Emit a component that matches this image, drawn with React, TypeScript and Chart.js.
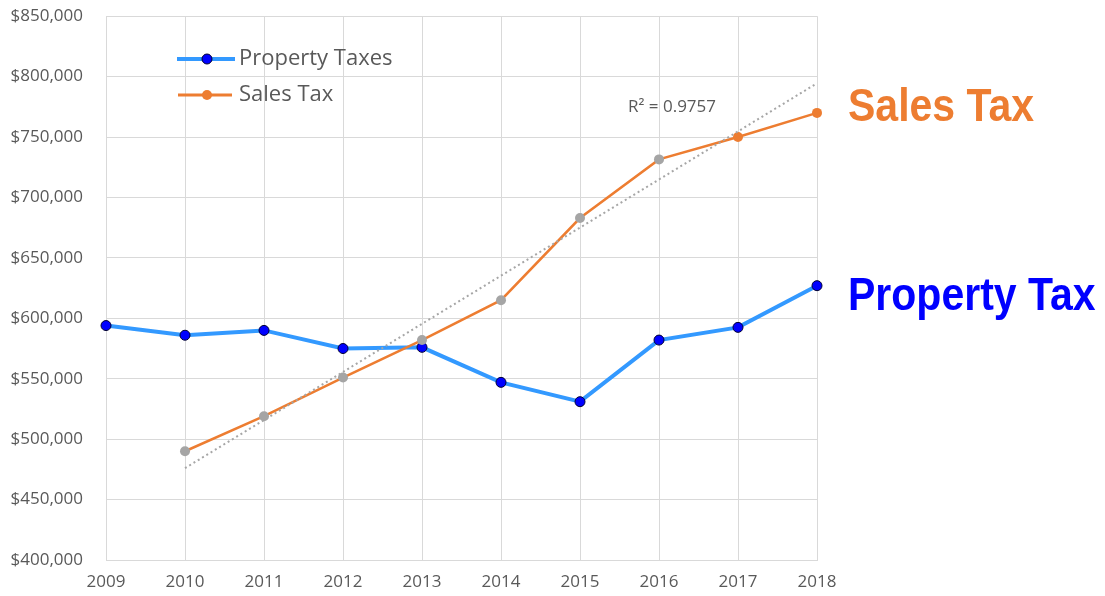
import React, { useEffect, useRef } from 'react';
import { Chart, registerables } from 'chart.js';

Chart.register(...registerables);

const years = ['2009', '2010', '2011', '2012', '2013', '2014', '2015', '2016', '2017', '2018'];
const propertyTaxes = [594000, 586000, 590000, 575000, 576000, 547000, 531000, 582000, 592500, 627000];
const salesTax = [null, 490000, 519000, 551000, 582000, 615000, 683000, 731500, 750000, 770000];
const salesTrend = [null, 476000, null, null, null, null, null, null, null, 794500];
const yTicks = { min: 400000, max: 850000, step: 50000 };
const rSquaredText = 'R² = 0.9757';
const legendLabels = ['Property Taxes', 'Sales Tax'];
const sideLabels = ['Sales Tax', 'Property Tax'];

const BLUE_LINE = '#3399FF';
const BLUE_MARK = '#0000FF';
const ORANGE = '#ED7D31';
const GRAY_MARK = '#A5A5A5';
const TEXT = '#595959';
const GRID = '#D9D9D9';
const FONT = "'Open Sans', sans-serif";

export default function App() {
  const ref = useRef<HTMLCanvasElement>(null);

  useEffect(() => {
    const canvas = ref.current;
    if (!canvas) return;

    const overlay = {
      id: 'overlay',
      afterDraw(chart: any) {
        const ctx = chart.ctx as CanvasRenderingContext2D;
        ctx.save();
        // legend
        ctx.lineCap = 'butt';
        ctx.strokeStyle = BLUE_LINE;
        ctx.lineWidth = 4;
        ctx.beginPath();
        ctx.moveTo(177, 59);
        ctx.lineTo(235, 59);
        ctx.stroke();
        ctx.beginPath();
        ctx.arc(207, 59, 5, 0, Math.PI * 2);
        ctx.fillStyle = BLUE_MARK;
        ctx.fill();
        ctx.lineWidth = 1;
        ctx.strokeStyle = '#000033';
        ctx.stroke();

        ctx.strokeStyle = ORANGE;
        ctx.lineWidth = 3;
        ctx.beginPath();
        ctx.moveTo(178, 95);
        ctx.lineTo(232, 95);
        ctx.stroke();
        ctx.beginPath();
        ctx.arc(207, 95, 5, 0, Math.PI * 2);
        ctx.fillStyle = ORANGE;
        ctx.fill();

        ctx.fillStyle = TEXT;
        ctx.font = `22px ${FONT}`;
        ctx.textAlign = 'left';
        ctx.textBaseline = 'middle';
        ctx.fillText(legendLabels[0], 239, 59);
        ctx.fillText(legendLabels[1], 239, 95);

        // R squared
        ctx.font = `17px ${FONT}`;
        ctx.fillText(rSquaredText, 628, 107);

        // side labels
        ctx.font = "bold 41px 'Liberation Sans', Arial, sans-serif";
        ctx.textBaseline = 'alphabetic';
        ctx.save();
        ctx.translate(848, 121);
        ctx.scale(1, 1.12);
        ctx.fillStyle = ORANGE;
        ctx.fillText(sideLabels[0], 0, 0);
        ctx.restore();
        ctx.save();
        ctx.translate(848, 310);
        ctx.scale(1, 1.12);
        ctx.fillStyle = BLUE_MARK;
        ctx.fillText(sideLabels[1], 0, 0);
        ctx.restore();
        ctx.restore();
      },
    };

    const chart = new Chart(canvas, {
      type: 'line',
      data: {
        labels: years,
        datasets: [
          {
            label: 'Trend',
            data: salesTrend,
            borderColor: '#A6A6A6',
            borderWidth: 2,
            borderDash: [2, 3],
            pointRadius: 0,
            spanGaps: true,
            order: 0,
          },
          {
            label: legendLabels[1],
            data: salesTax,
            borderColor: ORANGE,
            borderWidth: 2.5,
            pointRadius: 5,
            pointBorderWidth: 0,
            pointBackgroundColor: salesTax.map((_, i) => (i >= 8 ? ORANGE : GRAY_MARK)),
            pointBorderColor: salesTax.map((_, i) => (i >= 8 ? ORANGE : GRAY_MARK)),
            order: 1,
          },
          {
            label: legendLabels[0],
            data: propertyTaxes,
            borderColor: BLUE_LINE,
            borderWidth: 4,
            pointRadius: 5,
            pointBorderWidth: 1,
            pointBackgroundColor: BLUE_MARK,
            pointBorderColor: '#000033',
            order: 2,
          },
        ],
      },
      options: {
        animation: false,
        responsive: true,
        maintainAspectRatio: false,
        layout: { padding: { left: 0, right: 288, top: 0, bottom: 0 } },
        plugins: {
          legend: { display: false },
          tooltip: { enabled: false },
        },
        scales: {
          x: {
            offset: false,
            grid: { color: GRID, lineWidth: 1, drawTicks: false },
            border: { color: GRID },
            ticks: {
              color: TEXT,
              font: { family: FONT, size: 17 },
              padding: 12,
              maxRotation: 0,
              autoSkip: false,
            },
            afterFit(scale: any) {
              scale.height = 36;
            },
          },
          y: {
            min: yTicks.min,
            max: yTicks.max,
            grid: { color: GRID, lineWidth: 1, drawTicks: true, tickLength: 17, tickColor: 'rgba(0,0,0,0)' },
            border: { color: GRID },
            ticks: {
              stepSize: yTicks.step,
              color: TEXT,
              font: { family: FONT, size: 17 },
              padding: 6,
              callback: (v: any) => '$' + Number(v).toLocaleString('en-US'),
            },
            afterFit(scale: any) {
              scale.width = 106;
            },
          },
        },
      },
      plugins: [overlay],
    });

    return () => chart.destroy();
  }, []);

  return (
    <div style={{ position: 'absolute', left: 0, top: 0, width: 1105, height: 596, background: '#fff' }}>
      <canvas ref={ref} />
    </div>
  );
}
